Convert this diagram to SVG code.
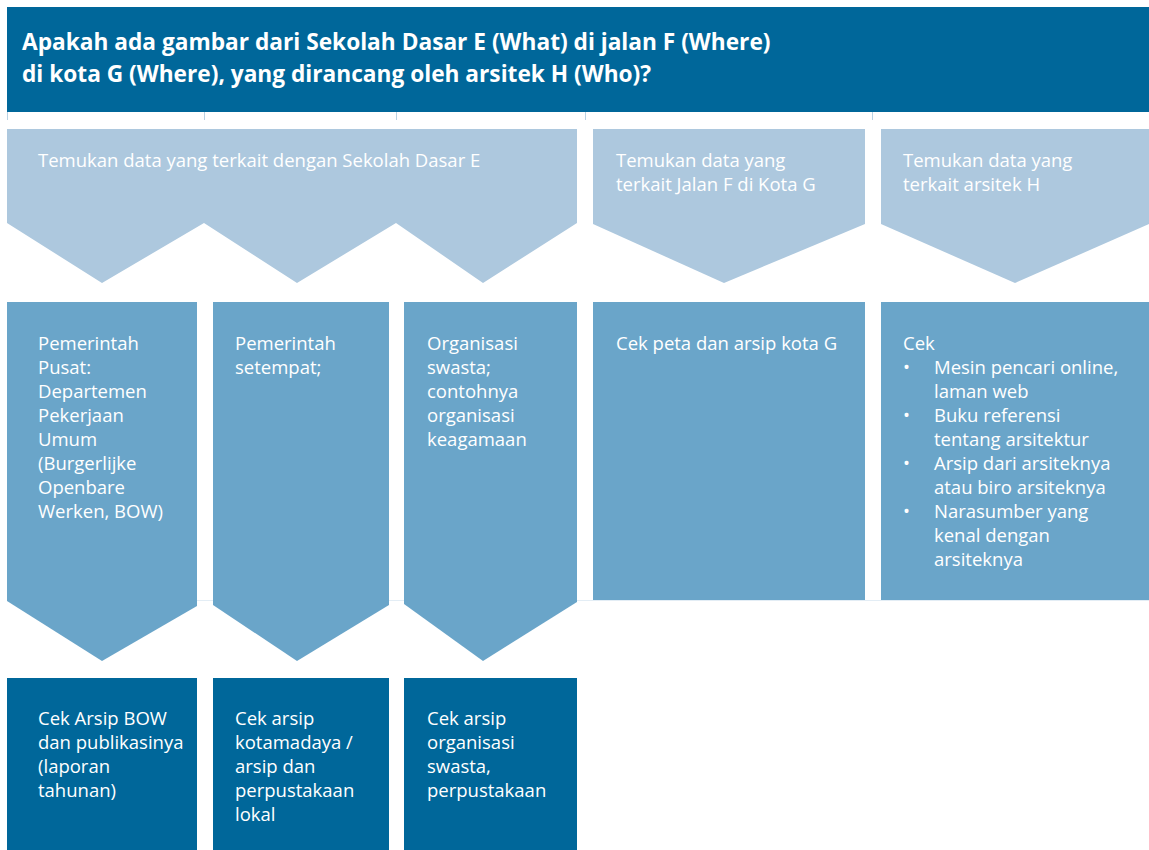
<svg xmlns="http://www.w3.org/2000/svg" width="1149" height="850" viewBox="0 0 1149 850">
<style>
text{font-family:"Open Sans","Noto Sans","Liberation Sans",sans-serif;fill:#ffffff;font-size:18.5px}
.title{font-weight:bold;font-size:22.7px}
.dark{fill:#00679a}
.light{fill:#adc8de}
.mid{fill:#6aa5c9}
.tick{stroke:#b9d2e4;stroke-width:1}
.faint{stroke:#e3edf5;stroke-width:1;fill:none}
</style>
<rect width="1149" height="850" fill="#ffffff"/>
<g id="header">
<rect class="dark" x="7" y="7" width="1142" height="105"/>
<text class="title" x="22" y="50">Apakah ada gambar dari Sekolah Dasar E (What) di jalan F (Where)</text>
<text class="title" x="22" y="82">di kota G (Where), yang dirancang oleh arsitek H (Who)?</text>
</g>
<g id="connectors">
<line class="tick" x1="7.5" y1="112" x2="7.5" y2="120"/>
<line class="tick" x1="204.5" y1="112" x2="204.5" y2="120"/>
<line class="tick" x1="396.5" y1="112" x2="396.5" y2="120"/>
<line class="tick" x1="585.5" y1="112" x2="585.5" y2="120"/>
<line class="tick" x1="872.5" y1="112" x2="872.5" y2="120"/>
<line class="faint" x1="7" y1="600.5" x2="1149" y2="600.5"/>
</g>
<g id="find-school">
<polygon class="light" points="7,129 577,129 577,223 483,283 396,223 297,283 204,223 102,283 7,223"/>
<text x="38" y="167">Temukan data yang terkait dengan Sekolah Dasar E</text>
</g>
<g id="find-street">
<polygon class="light" points="593,129 865,129 865,224 724,283 593,224"/>
<text x="616" y="167">Temukan data yang</text>
<text x="616" y="191">terkait Jalan F di Kota G</text>
</g>
<g id="find-architect">
<polygon class="light" points="881,129 1149,129 1149,224 1015,283 881,224"/>
<text x="903" y="167">Temukan data yang</text>
<text x="903" y="191">terkait arsitek H</text>
</g>
<g id="central-gov">
<polygon class="mid" points="7,302 197,302 197,606 102,661 7,601"/>
<text x="38" y="350">Pemerintah</text>
<text x="38" y="374">Pusat:</text>
<text x="38" y="398">Departemen</text>
<text x="38" y="422">Pekerjaan</text>
<text x="38" y="446">Umum</text>
<text x="38" y="470">(Burgerlijke</text>
<text x="38" y="494">Openbare</text>
<text x="38" y="518">Werken, BOW)</text>
</g>
<g id="local-gov">
<polygon class="mid" points="213,302 389,302 389,605 297,661 213,605"/>
<text x="235" y="350">Pemerintah</text>
<text x="235" y="374">setempat;</text>
</g>
<g id="private-org">
<polygon class="mid" points="404,302 577,302 577,602 483,661 404,604"/>
<text x="427" y="350">Organisasi</text>
<text x="427" y="374">swasta;</text>
<text x="427" y="398">contohnya</text>
<text x="427" y="422">organisasi</text>
<text x="427" y="446">keagamaan</text>
</g>
<g id="check-map">
<rect class="mid" x="593" y="302" width="272" height="298"/>
<text x="616" y="350">Cek peta dan arsip kota G</text>
</g>
<g id="check-architect">
<rect class="mid" x="881" y="302" width="268" height="298"/>
<text x="903" y="350">Cek</text>
<text x="903" y="374">•</text><text x="934" y="374">Mesin pencari online,</text>
<text x="934" y="398">laman web</text>
<text x="903" y="422">•</text><text x="934" y="422">Buku referensi</text>
<text x="934" y="446">tentang arsitektur</text>
<text x="903" y="470">•</text><text x="934" y="470">Arsip dari arsiteknya</text>
<text x="934" y="494">atau biro arsiteknya</text>
<text x="903" y="518">•</text><text x="934" y="518">Narasumber yang</text>
<text x="934" y="542">kenal dengan</text>
<text x="934" y="566">arsiteknya</text>
</g>
<g id="check-bow">
<rect class="dark" x="7" y="678" width="190" height="172"/>
<text x="38" y="725">Cek Arsip BOW</text>
<text x="38" y="749">dan publikasinya</text>
<text x="38" y="773">(laporan</text>
<text x="38" y="797">tahunan)</text>
</g>
<g id="check-municipal">
<rect class="dark" x="213" y="678" width="176" height="172"/>
<text x="235" y="725">Cek arsip</text>
<text x="235" y="749">kotamadaya /</text>
<text x="235" y="773">arsip dan</text>
<text x="235" y="797">perpustakaan</text>
<text x="235" y="821">lokal</text>
</g>
<g id="check-private">
<rect class="dark" x="404" y="678" width="173" height="172"/>
<text x="427" y="725">Cek arsip</text>
<text x="427" y="749">organisasi</text>
<text x="427" y="773">swasta,</text>
<text x="427" y="797">perpustakaan</text>
</g>
</svg>
